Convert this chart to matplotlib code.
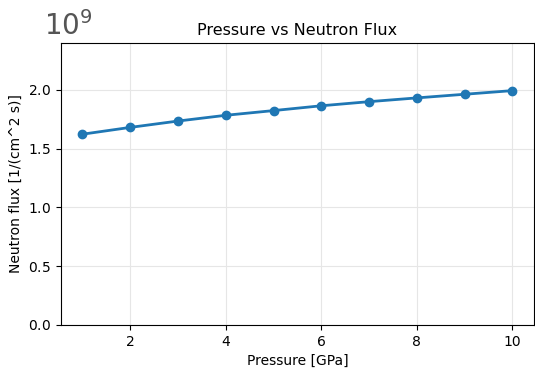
import matplotlib as mpl
mpl.use('Agg')
import matplotlib.pyplot as plt
from matplotlib.ticker import ScalarFormatter

pressure = [1, 2, 3, 4, 5, 6, 7, 8, 9, 10]
flux = [1.623e9, 1.681e9, 1.735e9, 1.784e9, 1.824e9, 1.865e9, 1.900e9, 1.932e9, 1.963e9, 1.994e9]

fig, ax = plt.subplots(figsize=(5.35, 3.7), dpi=100)
ax.plot(pressure, flux, color='#1f77b4', lw=2, marker='o', ms=6)

ax.set_ylim(0, 2.4e9)
ax.set_yticks([0, 0.5e9, 1.0e9, 1.5e9, 2.0e9])
ax.grid(True, color='#e6e6e6', lw=0.8)
ax.set_axisbelow(True)

fmt = ScalarFormatter(useMathText=True)
ax.yaxis.set_major_formatter(fmt)
ax.yaxis.get_offset_text().set_visible(False)
fig.text(0.083, 0.905, r'$10^9$', fontsize=20, color='#555555', ha='left', va='baseline')

ax.set_title('Pressure vs Neutron Flux', fontsize=11.5)
ax.set_xlabel('Pressure [GPa]', fontsize=10)
ax.set_ylabel('Neutron flux [1/(cm^2 s)]', fontsize=10)

fig.subplots_adjust(left=0.114, right=0.998, top=0.884, bottom=0.122)
fig.savefig('out.png', dpi=100)
